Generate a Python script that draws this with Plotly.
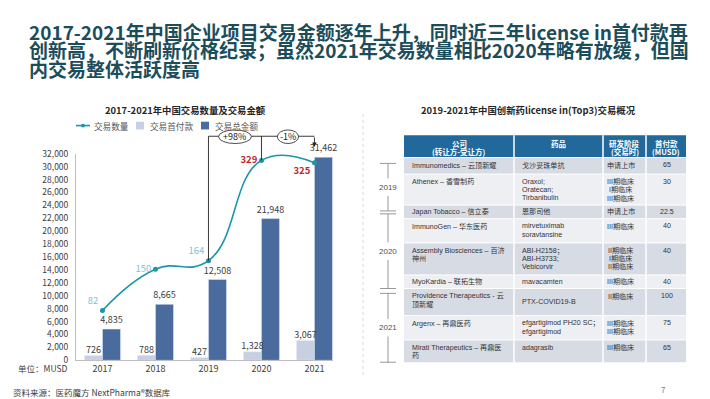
import plotly.graph_objects as go

W, H = 710, 399

# ---------------- data ----------------
years = ['2017', '2018', '2019', '2020', '2021']
deal_count = [82, 150, 164, 329, 325]
upfront = [726, 788, 427, 1328, 3067]
total_amount = [4835, 8665, 12508, 21948, 31462]
y_ticks = list(range(0, 32001, 2000))
change_labels = ['+98%', '-1%']
series_names = ['交易数量', '交易首付款', '交易总金额']

title_lines = [
    '2017-2021年中国企业项目交易金额逐年上升，同时近三年license in首付款再',
    '创新高，不断刷新价格纪录；虽然2021年交易数量相比2020年略有放缓，但国',
    '内交易整体活跃度高',
]
left_title = '2017-2021年中国交易数量及交易金额'
right_title = '2019-2021年中国创新药license in(Top3)交易概况'
unit_label = '单位：MUSD'
source_label = '资料来源：医药魔方 NextPharma®数据库'

table_header = ['公司<br>(转让方-受让方)', '药品', '研发阶段<br>(交易时)', '首付款<br>(MUSD)']
companies = [
    'Immunomedics – 云顶新耀',
    'Athenex – 香雪制药',
    'Japan Tobacco – 信立泰',
    'ImmunoGen – 华东医药',
    'Assembly Biosciences – 百济<br>神州',
    'MyoKardia – 联拓生物',
    'Providence Therapeutics - 云<br>顶新耀',
    'Argenx – 再鼎医药',
    'Mirati Therapeutics – 再鼎医<br>药',
]
drugs = [
    '戈沙妥珠单抗',
    'Oraxol;<br>Oratecan;<br>Tirbanibulin',
    '恩那司他',
    'mirvetuximab<br>soravtansine',
    'ABI-H2158；<br>ABI-H3733;<br>Vebicorvir',
    'mavacamten',
    'PTX-COVID19-B',
    'efgartigimod PH20 SC；<br>efgartigimod',
    'adagrasib',
]
phases = [
    '申请上市',
    'III期临床<br>I期临床<br>III期临床',
    '申请上市',
    'III期临床',
    'II期临床<br>I期临床<br>II期临床',
    'III期临床',
    'II期临床',
    'III期临床<br>III期临床',
    'III期临床',
]
payments = ['65', '30', '22.5', '40', '40', '40', '100', '75', '65']
year_groups = ['2019', '2020', '2021']

# ---------------- layout helpers ----------------
def px(x):
    return x / W

def py(y):
    return 1 - y / H

CJK = 'Noto Sans CJK SC'
ARIAL = 'Liberation Sans, Noto Sans CJK SC'
TEAL = '#1b95aa'
LIGHT_BAR = '#c7d0e2'
DARK_BAR = '#4a6b9d'
TXT = '#404040'

PLOT_L, PLOT_R, PLOT_T, PLOT_B = 68, 325, 143, 356
Y2_MAX = 340
BARGAP = 0.32
BAR_OFF = (1 - BARGAP) / 4
yd0, yd1 = py(PLOT_B), py(PLOT_T)
xpos = list(range(len(years)))

def y2paper(v):
    return yd0 + v / Y2_MAX * (yd1 - yd0)

fig = go.Figure()

fig.add_trace(go.Bar(
    x=xpos, y=upfront, name=series_names[1], marker_color=LIGHT_BAR, hoverinfo='skip'))
fig.add_trace(go.Bar(
    x=xpos, y=total_amount, name=series_names[2], marker_color=DARK_BAR,
    texttemplate='%{y:,}', textposition='outside', textangle=0,
    constraintext='none', cliponaxis=False,
    textfont=dict(size=9, color=TXT, family=CJK), hoverinfo='skip'))
# labels of the light bars drawn on top of everything
fig.add_trace(go.Scatter(
    x=[i - BAR_OFF for i in xpos], y=upfront, mode='text', texttemplate='%{y:,}',
    textposition='top center', textfont=dict(size=9, color=TXT, family=CJK),
    cliponaxis=False, hoverinfo='skip', showlegend=False))

line_text = [str(v) if i < 3 else '<b>%d</b>' % v for i, v in enumerate(deal_count)]
line_text_col = ['#7cc3d5'] * 3 + ['#c0282d'] * 2
fig.add_trace(go.Scatter(
    x=xpos, y=deal_count, name=series_names[0], yaxis='y2',
    mode='lines+markers+text', line=dict(color=TEAL, width=1.6, shape='spline', smoothing=1.3),
    marker=dict(size=5, color=TEAL),
    text=line_text,
    textposition=['top left', 'middle left', 'top left', 'middle left', 'bottom left'],
    textfont=dict(size=9.5, color=line_text_col, family=CJK),
    cliponaxis=False, hoverinfo='skip'))

shapes = []
annotations = []

def note(x, y, text, size, color, family=CJK, xanchor='center', yanchor='middle', **kw):
    annotations.append(dict(xref='paper', yref='paper', x=px(x), y=py(y), text=text,
                            xanchor=xanchor, yanchor=yanchor, showarrow=False,
                            font=dict(size=size, color=color, family=family), **kw))

def pline(x0, y0, x1, y1, color, width=1, dash=None):
    ln = dict(color=color, width=width)
    if dash:
        ln['dash'] = dash
    shapes.append(dict(type='line', xref='paper', yref='paper', x0=px(x0), x1=px(x1),
                       y0=py(y0), y1=py(y1), line=ln))

# ---- bracket (change markers) ----
BR_Y = 125
shapes.append(dict(type='line', xref='x', yref='paper', x0=2, x1=2, y0=py(BR_Y), y1=y2paper(deal_count[2]),
                   line=dict(color='#222222', width=0.9)))
shapes.append(dict(type='line', xref='x', yref='paper', x0=2, x1=4, y0=py(BR_Y), y1=py(BR_Y),
                   line=dict(color='#222222', width=0.9)))
shapes.append(dict(type='line', xref='x', yref='paper', x0=3, x1=3, y0=py(BR_Y), y1=y2paper(deal_count[3]),
                   line=dict(color='#222222', width=0.9)))
annotations.append(dict(xref='x', yref='paper', x=4, y=py(136), ax=0, ay=-11, text='',
                        showarrow=True, arrowhead=2, arrowsize=1, arrowwidth=0.9, arrowcolor='#222222'))
for (xa, xb), lab in zip([(2.19, 2.81), (3.3, 3.7)], change_labels):
    shapes.append(dict(type='circle', xref='x', yref='paper', x0=xa, x1=xb, y0=py(132.5), y1=py(118.5),
                       fillcolor='white', line=dict(color='#222222', width=0.8)))
    annotations.append(dict(xref='x', yref='paper', x=(xa + xb) / 2, y=py(125.5), text=lab,
                            xanchor='center', yanchor='middle',
                            showarrow=False, font=dict(size=9, color='#222222', family=CJK)))

# ---- manual legend ----
LEG_Y = 114
pline(68, LEG_Y, 82, LEG_Y, TEAL, 1.6)
shapes.append(dict(type='circle', xref='paper', yref='paper', x0=px(73), x1=px(77), y0=py(LEG_Y + 2), y1=py(LEG_Y - 2),
                   fillcolor=TEAL, line=dict(width=0)))
shapes.append(dict(type='rect', xref='paper', yref='paper', x0=px(128), x1=px(136), y0=py(LEG_Y + 4), y1=py(LEG_Y - 4),
                   fillcolor=LIGHT_BAR, line=dict(width=0)))
shapes.append(dict(type='rect', xref='paper', yref='paper', x0=px(193), x1=px(201), y0=py(LEG_Y + 4), y1=py(LEG_Y - 4),
                   fillcolor=DARK_BAR, line=dict(width=0)))
for xx, nm in zip([84, 140, 205], series_names):
    note(xx, LEG_Y, nm, 8.6, '#595959', xanchor='left')

# ---- titles and labels ----
for i, t in enumerate(title_lines):
    note(19, 17 + i * 19, '<b>%s</b>' % t, 19, '#1b4d5b', xanchor='left')
note(177, 98, '<b>%s</b>' % left_title, 9.4, '#262626')
note(520, 98, '<b>%s</b>' % right_title, 9.4, '#262626')
note(62, 364, unit_label, 8.5, TXT, xanchor='right')
note(3, 389, source_label, 8.5, TXT, xanchor='left')
note(655, 386, '7', 8, '#808080')

# divider
pline(355, 102, 355, 372, '#d9d9d9', 1, 'dot')

# PHARMCUBE side brand
pline(697, 117, 697, 163, '#8cc9d6', 1)
pline(697, 240, 697, 283, '#8cc9d6', 1)
note(698, 201, "<span style='color:#86c8d6'>PHARM</span><b>CUBE</b>", 10, '#2b8fa6', family=ARIAL,
     textangle=90)

# ---- table ----
COLS = [396, 506, 595, 638, 678]
HDR_T, HDR_B = 124, 147
ROW_B = [147, 164, 196, 210, 235, 268, 282, 310, 335, 358]
HDR_COL = '#21699a'
ROW_COLS = ['#d7dbe4', '#edeff3']
LINE_H = 8.4

shapes.append(dict(type='rect', xref='paper', yref='paper', x0=px(COLS[0]), x1=px(COLS[-1]),
                   y0=py(HDR_B), y1=py(HDR_T), fillcolor=HDR_COL, line=dict(width=0), layer='below'))
for r in range(len(companies)):
    shapes.append(dict(type='rect', xref='paper', yref='paper', x0=px(COLS[0]), x1=px(COLS[-1]),
                       y0=py(ROW_B[r + 1]), y1=py(ROW_B[r]), fillcolor=ROW_COLS[r % 2],
                       line=dict(width=0), layer='below'))
    pline(COLS[0], ROW_B[r], COLS[-1], ROW_B[r], 'white', 1)
for cx in COLS[1:-1]:
    pline(cx, HDR_T, cx, ROW_B[-1], 'white', 1.5)

def cell_text(txt, x, top, anchor, size=7.1, color='#333333', bold=False, family=ARIAL, first=8.0):
    for k, ln in enumerate(txt.split('<br>')):
        t = '<b>%s</b>' % ln if bold else ln
        note(x, top + first + k * LINE_H, t, size, color, family=family, xanchor=anchor)

col_x = [(COLS[0] + 6, 'left'), (COLS[1] + 6, 'left'), ((COLS[2] + COLS[3]) / 2 - 4, 'center'),
         ((COLS[3] + COLS[4]) / 2 + 1, 'center')]
hdr_x = [(COLS[i] + COLS[i + 1]) / 2 for i in range(4)]
for i, h in enumerate(table_header):
    cell_text(h, hdr_x[i], HDR_T, 'center', size=7.5, color='white', bold=True, family=CJK, first=8.5)

for r in range(len(companies)):
    top = ROW_B[r]
    h = ROW_B[r + 1] - top
    first = min(8.0, h / 2)
    for c, vals in enumerate([companies, drugs, phases, payments]):
        txt = vals[r]
        f = first
        if c == 1 and r == 6:
            f = h / 2
        cell_text(txt, col_x[c][0], top, col_x[c][1], first=f)

# year timeline
TL_X = 380
year_spans = [(153, 202), (205, 282), (287, 358)]
for yr, (a, b) in zip(year_groups, year_spans):
    mid = (a + b) / 2
    for yy in (a, b):
        pline(372, yy, 388, yy, '#8c8c8c', 0.9)
    pline(TL_X, a, TL_X, mid - 9, '#8c8c8c', 0.9)
    pline(TL_X, mid + 9, TL_X, b, '#8c8c8c', 0.9)
    note(TL_X, mid, yr, 8, '#505050', family=ARIAL)

fig.update_layout(
    width=W, height=H, autosize=False,
    margin=dict(l=0, r=0, t=0, b=0),
    paper_bgcolor='white', plot_bgcolor='rgba(0,0,0,0)',
    showlegend=False, barmode='group', bargap=BARGAP, bargroupgap=0,
    xaxis=dict(domain=[px(PLOT_L), px(PLOT_R)], range=[-0.5, 4.35], tickvals=xpos, ticktext=years,
               showline=True, linecolor='#bfbfbf', linewidth=1, ticks='',
               showgrid=False, zeroline=False, tickfont=dict(size=9, color=TXT, family=CJK)),
    yaxis=dict(domain=[yd0, yd1], range=[0, 32000], tickvals=y_ticks, tickformat=',',
               showline=True, linecolor='#bfbfbf', linewidth=1, ticks='', showgrid=False, zeroline=False,
               ticklabelstandoff=5, tickfont=dict(size=8.5, color=TXT, family=CJK)),
    yaxis2=dict(overlaying='y', range=[0, Y2_MAX], visible=False, showgrid=False),
    shapes=shapes, annotations=annotations,
)

fig.write_html('out.html')
